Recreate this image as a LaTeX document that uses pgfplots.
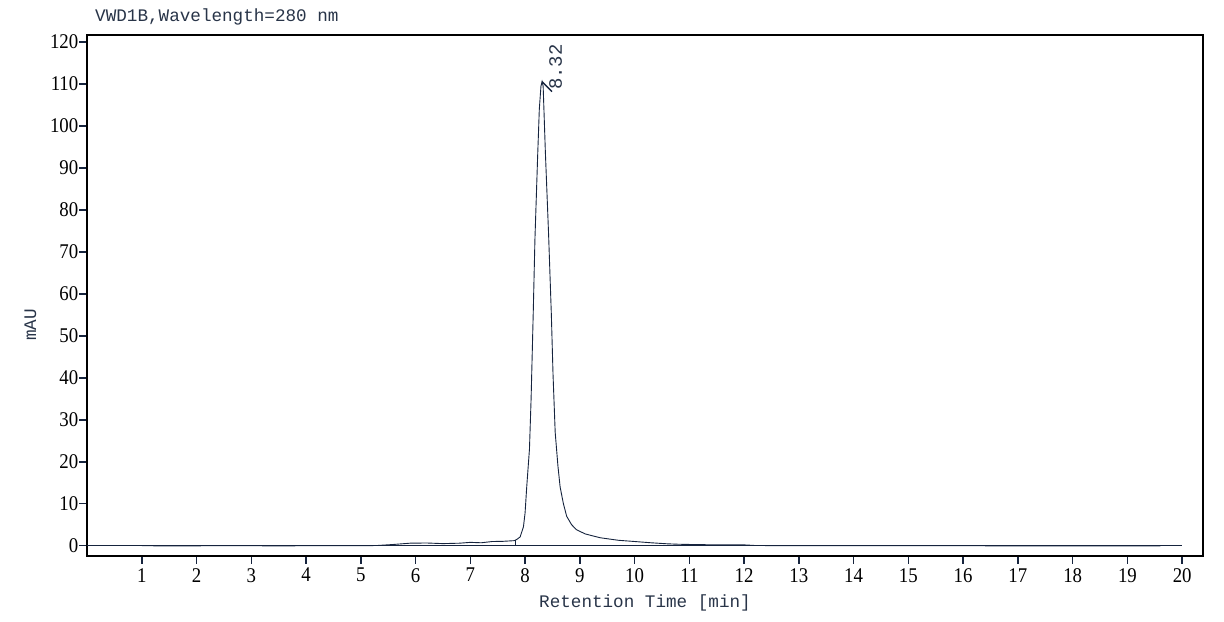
\documentclass[border=0pt]{standalone}
\usepackage{pgfplots}
\pgfplotsset{compat=1.18}
\usepackage{fontspec}
\newfontfamily\monof{Liberation Mono}
\newfontfamily\tickf[FakeStretch=0.9]{Liberation Serif}
\definecolor{trace}{RGB}{22,36,62}
\definecolor{txt}{RGB}{40,52,72}
\begin{document}
\begin{tikzpicture}[x=1bp,y=1bp]
\path[use as bounding box] (0,0) rectangle (1224,622);
\begin{axis}[
  at={(87bp,66bp)}, anchor=south west,
  scale only axis, width=1116bp, height=521bp,
  xmin=0, xmax=20.38, ymin=-2.45, ymax=121.7,
  xtick={1,2,...,20}, ytick={0,10,...,120},
  tick align=outside, major tick length=8bp,
  xtick pos=bottom, ytick pos=left,
  axis line style={black, line width=1.6bp},
  every tick/.style={trace, line width=1.5bp},
  /pgf/number format/assume math mode=true,
  tick label style={font=\tickf\fontsize{21}{24}\selectfont, black},
  yticklabel style={inner xsep=0.5bp},
  xticklabel style={inner ysep=4bp},
  clip=false,
]
\addplot[trace, line width=0.6bp] coordinates {(0,0) (20,0)};
\addplot[trace, line width=0.9bp] coordinates {
(1.0,0) (1.5,-0.05) (2.5,0) (3.5,-0.03) (4.5,0) (5.0,0) (5.3,0.05) (5.6,0.3) (5.9,0.6) (6.2,0.65) (6.5,0.5) (6.8,0.6) (7.0,0.8) (7.2,0.7) (7.4,1.0) (7.6,1.05) (7.8,1.2)
(7.85,1.5) (7.91,2.1) (7.97,4.5) (8.0,7.8) (8.03,14) (8.08,23) (8.11,35) (8.15,56) (8.18,73) (8.23,93) (8.26,104) (8.29,109.5) (8.31,110.6) (8.33,109.5) (8.37,94) (8.43,74) (8.48,55) (8.51,41) (8.55,27) (8.60,19) (8.64,14) (8.70,10) (8.76,7) (8.85,5) (8.94,3.8)
(9.1,2.8) (9.37,1.9) (9.7,1.3) (10.0,1.0) (10.3,0.7) (10.6,0.45) (10.8,0.35) (11.0,0.3) (11.5,0.2) (12.0,0.2) (12.2,0.05) (13,0) (15,0) (17,-0.03) (18,-0.05) (19.6,-0.03)};
\addplot[trace, line width=0.6bp] coordinates {(7.83,0) (7.83,1.3)};
\addplot[trace, line width=1.4bp] coordinates {(8.31,110.6) (8.49,108.2)};
\node[rotate=90, anchor=west, txt, font=\monof\fontsize{19}{22}\selectfont, inner sep=0pt] at (axis cs:8.56,108.6) {8.32};
\end{axis}
\node[anchor=base west, txt, font=\monof\fontsize{17.7}{20}\selectfont, inner sep=0pt] at (95,600) {VWD1B,Wavelength=280 nm};
\node[anchor=base, txt, font=\monof\fontsize{17.7}{20}\selectfont, inner sep=0pt] at (645,14) {Retention Time [min]};
\node[anchor=base, rotate=90, txt, font=\monof\fontsize{17.7}{20}\selectfont, inner sep=0pt] at (36,297) {mAU};
\end{tikzpicture}
\end{document}
